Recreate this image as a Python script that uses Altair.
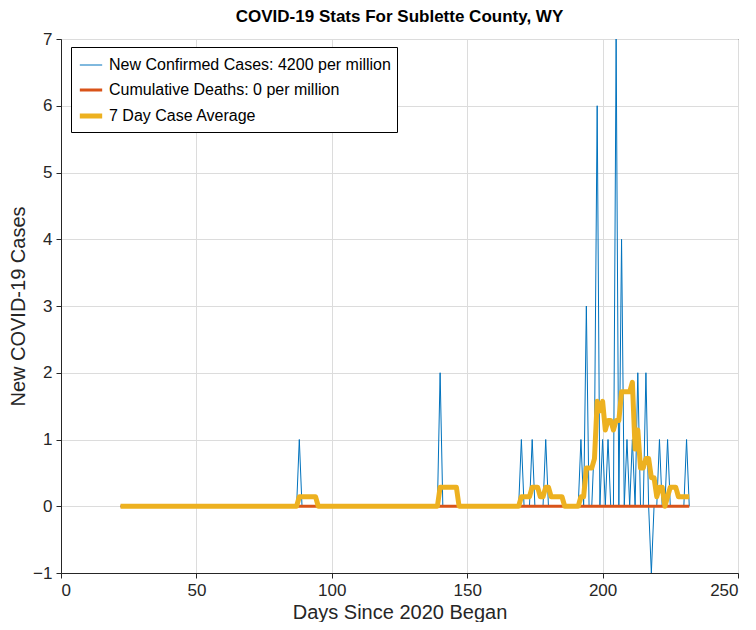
import altair as alt
import pandas as pd

days = list(range(22, 233))
spikes = {88: 1, 140: 2, 170: 1, 174: 1, 179: 1, 192: 1, 194: 3, 197: 1, 198: 6,
          200: 1, 202: 1, 205: 7, 207: 4, 209: 1, 211: 1, 213: 2, 216: 2, 218: -1,
          221: 1, 224: 1, 231: 1}
cases = [spikes.get(d, 0) for d in days]
deaths = [0 for d in days]

names = ["New Confirmed Cases: 4200 per million", "Cumulative Deaths: 0 per million", "7 Day Case Average"]
colors = ["#0072BD", "#D95319", "#EDB120"]
widths = [1, 5, 5]

rows = []
for i, d in enumerate(days):
    avg = sum(cases[max(0, i - 6):i + 1]) / 7
    rows.append({"day": d, "value": cases[i], "series": names[0]})
    rows.append({"day": d, "value": deaths[i], "series": names[1]})
    rows.append({"day": d, "value": avg, "series": names[2]})
df = pd.DataFrame(rows)

F = "Liberation Sans"
color = alt.Color("series:N", scale=alt.Scale(domain=names, range=colors),
                  legend=alt.Legend(title=None, orient="none", legendX=10, legendY=8,
                                    symbolType="stroke", labelFontSize=16, labelFont=F,
                                    symbolSize=500, symbolStrokeWidth=4, fillColor="white",
                                    strokeColor="black", padding=6, rowPadding=4, labelLimit=400))
sw = alt.StrokeWidth("series:N", scale=alt.Scale(domain=names, range=widths), legend=None)

axcommon = dict(labelFont=F, titleFont=F, labelFontSize=17, titleFontSize=20,
                titleFontWeight="normal", labelColor="#262626", titleColor="#262626",
                gridColor="#dcdcdc", domainColor="#262626", tickColor="#262626",
                tickSize=5, labelPadding=4)
x = alt.X("day:Q", scale=alt.Scale(domain=[0, 250], nice=False),
          axis=alt.Axis(values=[0, 50, 100, 150, 200, 250], title="Days Since 2020 Began", **axcommon))
y = alt.Y("value:Q", scale=alt.Scale(domain=[-1, 7], nice=False),
          axis=alt.Axis(values=list(range(-1, 8)), title="New COVID-19 Cases", **axcommon))

layers = [alt.Chart(df).transform_filter(alt.datum.series == n).mark_line(strokeJoin="round")
          .encode(x=x, y=y, color=color, strokeWidth=sw) for n in names]

chart = alt.layer(*layers).properties(
    width=677, height=534,
    padding={"left": 0, "top": 0, "right": 8, "bottom": 0},
    title=alt.TitleParams("COVID-19 Stats For Sublette County, WY", fontSize=17, font=F,
                          fontWeight="bold", offset=4),
).configure_view(stroke="black", strokeWidth=1)

chart.save("out.html", embed_options={"renderer": "svg", "actions": False})
